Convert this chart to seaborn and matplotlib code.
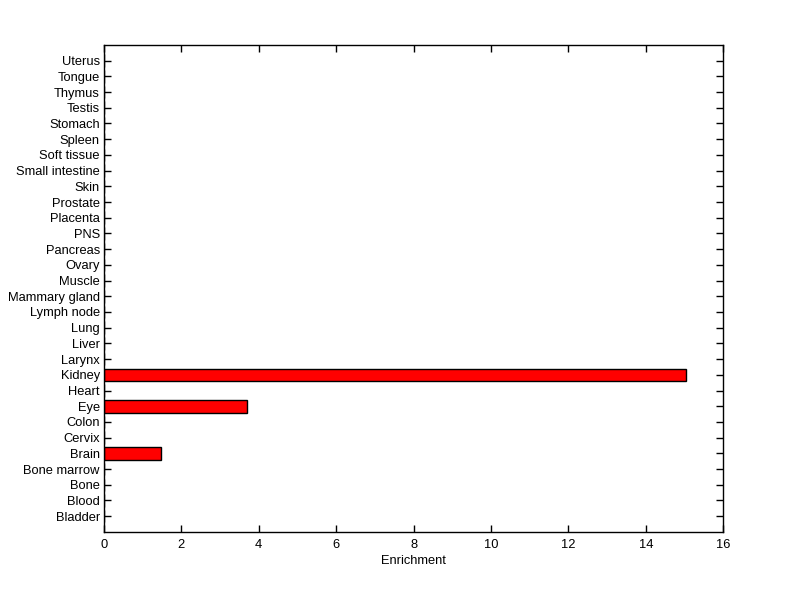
import matplotlib
matplotlib.use('Agg')
import matplotlib.pyplot as plt
import seaborn as sns
import pandas as pd

tissues = ['Bladder', 'Blood', 'Bone', 'Bone marrow', 'Brain', 'Cervix', 'Colon',
           'Eye', 'Heart', 'Kidney', 'Larynx', 'Liver', 'Lung', 'Lymph node',
           'Mammary gland', 'Muscle', 'Ovary', 'Pancreas', 'PNS', 'Placenta',
           'Prostate', 'Skin', 'Small intestine', 'Soft tissue', 'Spleen',
           'Stomach', 'Testis', 'Thymus', 'Tongue', 'Uterus']
enrichment = [0, 0, 0, 0, 1.47, 0, 0,
              3.70, 0, 15.04, 0, 0, 0, 0,
              0, 0, 0, 0, 0, 0,
              0, 0, 0, 0, 0,
              0, 0, 0, 0, 0]

# top of the plot is the last tissue, so reverse for seaborn's top-down order
df = pd.DataFrame({'Tissue': tissues[::-1], 'Enrichment': enrichment[::-1]})

sns.set_style('white')
plt.rcParams['font.family'] = ['Liberation Sans', 'DejaVu Sans']
plt.rcParams['text.color'] = 'black'
plt.rcParams['xtick.color'] = 'black'
plt.rcParams['ytick.color'] = 'black'
plt.rcParams['axes.labelcolor'] = 'black'

fig = plt.figure(figsize=(8, 5.99), dpi=100)
ax = fig.add_axes([0.13, 0.112, 0.774, 0.813])
sns.barplot(data=df, x='Enrichment', y='Tissue', orient='h', color='red',
            saturation=1, width=0.8, edgecolor='black', linewidth=1, ax=ax)

ax.set_xlim(0, 16)
ax.set_ylim(30, -1)
ax.set_xticks(range(0, 17, 2))
ax.set_xlabel('Enrichment', fontsize=9.3, labelpad=3)
ax.set_ylabel('')
ax.tick_params(axis='both', direction='in', length=5, width=1,
               labelsize=9.3, left=True, bottom=True, top=True, right=True)
ax.tick_params(axis='y', pad=3)
ax.tick_params(axis='x', pad=5)
for s in ax.spines.values():
    s.set_color('black')
    s.set_linewidth(1)

fig.savefig('out.png', dpi=100, facecolor='white')
